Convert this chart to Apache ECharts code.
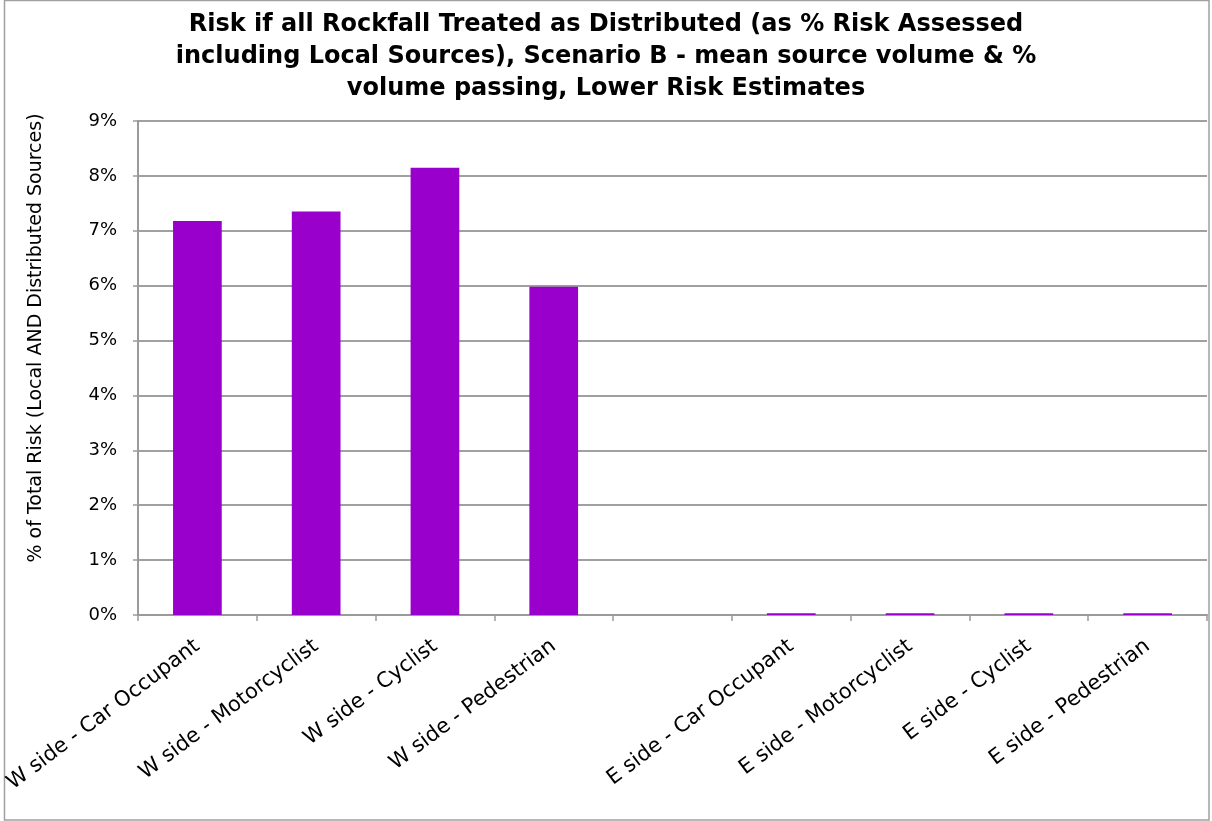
<!DOCTYPE html>
<html>
<head>
<meta charset="utf-8">
<script src="https://cdn.jsdelivr.net/npm/echarts@6/dist/echarts.min.js"></script>
<style>
  html, body { margin: 0; padding: 0; background: #ffffff; }
  #chart { width: 1212px; height: 821px; }
</style>
</head>
<body>
<div id="chart"></div>
<script>
// Road-user groups on each side; the blank entry leaves a gap between W and E
const categories = [
  'W side - Car Occupant',
  'W side - Motorcyclist',
  'W side - Cyclist',
  'W side - Pedestrian',
  '',
  'E side - Car Occupant',
  'E side - Motorcyclist',
  'E side - Cyclist',
  'E side - Pedestrian'
];

// Share of total risk (%) when all rockfall is treated as distributed
const riskPercent = [7.18, 7.35, 8.15, 5.98, null, 0.03, 0.03, 0.03, 0.03];

const titleLines = [
  'Risk if all Rockfall Treated as Distributed (as % Risk Assessed',
  'including Local Sources), Scenario B - mean source volume & %',
  'volume passing, Lower Risk Estimates'
];
const yAxisTitle = '% of Total Risk (Local AND Distributed Sources)';

const FONT = '"DejaVu Sans", "Liberation Sans", Arial, sans-serif';
const chart = echarts.init(document.getElementById('chart'), null, { renderer: 'canvas' });

chart.setOption({
  backgroundColor: '#ffffff',
  animation: false,
  title: {
    text: titleLines.join('\n'),
    left: 'center',
    top: 4,
    textStyle: {
      fontFamily: FONT,
      fontSize: 24,
      fontWeight: 'bold',
      color: '#000000',
      lineHeight: 32
    }
  },
  grid: { left: 138, right: 5, top: 121, bottom: 206, containLabel: false },
  xAxis: {
    type: 'category',
    data: categories,
    boundaryGap: true,
    axisLine: { show: true, lineStyle: { color: '#9a9a9a', width: 2 } },
    axisTick: { show: true, length: 6, lineStyle: { color: '#9a9a9a', width: 1.5 } },
    axisLabel: {
      interval: 0,
      rotate: 37,
      margin: 29,
      fontFamily: FONT,
      fontSize: 21,
      color: '#000000'
    },
    splitLine: { show: false }
  },
  yAxis: {
    type: 'value',
    min: 0,
    max: 9,
    interval: 1,
    axisLine: { show: true, lineStyle: { color: '#9a9a9a', width: 2 } },
    axisTick: { show: true, length: 5, lineStyle: { color: '#9a9a9a', width: 1.5 } },
    axisLabel: {
      formatter: '{value}%',
      margin: 21,
      fontFamily: FONT,
      fontSize: 18,
      color: '#000000'
    },
    splitLine: { show: true, lineStyle: { color: '#a0a0a0', width: 2 } }
  },
  series: [{
    type: 'bar',
    data: riskPercent,
    barWidth: '41%',
    itemStyle: { color: '#9900CC' }
  }],
  graphic: [
    {
      type: 'rect',
      shape: { x: 4.5, y: 0.5, width: 1204.5, height: 819.5 },
      style: { fill: null, stroke: '#a0a0a0', lineWidth: 1.5 },
      silent: true
    },
    {
      type: 'text',
      x: 36,
      y: 338,
      rotation: Math.PI / 2,
      style: {
        text: yAxisTitle,
        fontFamily: FONT,
        fontSize: 19,
        fill: '#000000',
        align: 'center',
        verticalAlign: 'middle'
      }
    }
  ]
});
</script>
</body>
</html>
